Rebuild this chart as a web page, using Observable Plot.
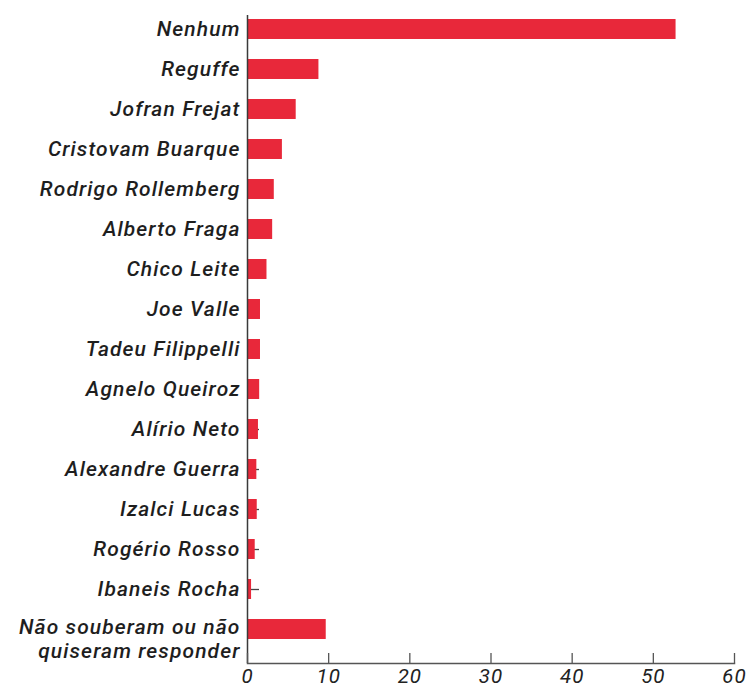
<!DOCTYPE html>
<html>
<head>
<meta charset="utf-8">
<script src="https://cdn.jsdelivr.net/npm/d3@7"></script>
<script src="https://cdn.jsdelivr.net/npm/@observablehq/plot@0.6"></script>
<style>
  html, body { margin: 0; padding: 0; background: #fff; }
  svg { display: block; }
  g[aria-label="y-axis tick label"] text { letter-spacing: 1.1px; }
  g[aria-label="x-axis tick label"] text { letter-spacing: 1px; }
</style>
</head>
<body>
<div id="chart"></div>
<script>
const names = [
  "Nenhum", "Reguffe", "Jofran Frejat", "Cristovam Buarque", "Rodrigo Rollemberg",
  "Alberto Fraga", "Chico Leite", "Joe Valle", "Tadeu Filippelli", "Agnelo Queiroz",
  "Alírio Neto", "Alexandre Guerra", "Izalci Lucas", "Rogério Rosso", "Ibaneis Rocha",
  "Não souberam ou não\nquiseram responder"
];
const values = [52.8, 8.8, 6.0, 4.3, 3.3, 3.1, 2.4, 1.6, 1.6, 1.5, 1.35, 1.15, 1.2, 0.95, 0.5, 9.7];
const xTicks = [0, 10, 20, 30, 40, 50, 60];

const data = names.map((name, i) => ({name, value: values[i]}));
const lastName = names[names.length - 1];
const otherNames = names.slice(0, -1);

const font = "Roboto, 'Noto Sans', sans-serif";

const chart = Plot.plot({
  width: 751,
  height: 688,
  marginTop: 15,
  marginLeft: 247,
  marginRight: 17,
  marginBottom: 25,
  style: {fontFamily: font, background: "#fff", overflow: "visible"},
  x: {domain: [0, 60], ticks: xTicks},
  y: {domain: names, padding: 0.5, paddingOuter: 0.25, align: 0.15},
  marks: [
    Plot.axisY({text: null, tickSize: -12, stroke: "#444", strokeWidth: 1.3, label: null}),
    Plot.barX(data, {x: "value", y: "name", fill: "#e8283a"}),
    Plot.ruleX([0], {stroke: "#3a3a3a", strokeWidth: 1.5}),
    Plot.frame({anchor: "bottom", stroke: "#555", strokeWidth: 1.5}),
    Plot.axisX({ticks: xTicks, tickSize: -10, tickPadding: 15, stroke: "#555", strokeWidth: 1.3,
      fontSize: 20.5, fontStyle: "italic", fill: "#222", label: null}),
    Plot.axisY({ticks: otherNames, tickSize: 0, tickPadding: 7, fontSize: 21, fontStyle: "italic",
      fontWeight: 500, fill: "#1e1e1e", label: null}),
    Plot.axisY({ticks: [lastName], tickSize: 0, tickPadding: 7, fontSize: 21, fontStyle: "italic",
      fontWeight: 500, fill: "#1e1e1e", lineHeight: 1.13, dy: 9, label: null})
  ]
});
document.getElementById("chart").appendChild(chart);
</script>
</body>
</html>
